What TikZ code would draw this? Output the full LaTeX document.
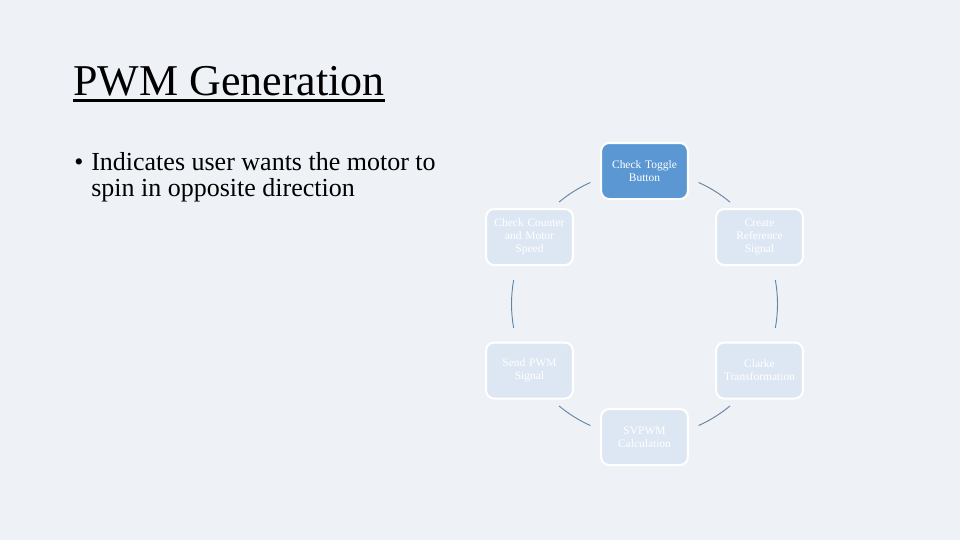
\documentclass[tikz,border=0pt]{standalone}
\usepackage{fontspec}
\setmainfont{Liberation Serif}
\definecolor{bgc}{RGB}{238,242,247}
\definecolor{darkbox}{RGB}{91,152,211}
\definecolor{lightbox}{RGB}{221,231,243}
\definecolor{connc}{RGB}{100,132,165}
\tikzset{
  stepbox/.style={rectangle, rounded corners=6pt, draw=white, line width=1.5pt,
    minimum width=65pt, minimum height=42pt, text width=60pt, align=center,
    inner sep=1pt, text=white, font=\fontsize{8.6}{9.8}\selectfont},
  activebox/.style={stepbox, fill=darkbox},
  fadedbox/.style={stepbox, fill=lightbox},
  conn/.style={draw=connc, line width=0.7pt},
}
\begin{document}
\begin{tikzpicture}[x=0.75pt,y=-0.75pt]
\fill[bgc] (0,0) rectangle (960,540);
\useasboundingbox (0,0) rectangle (960,540);

\node[anchor=base west, inner sep=0, font=\fontsize{33}{40}\selectfont] (title) at (73,95) {PWM Generation};
\draw[line width=2pt] ([yshift=-4pt]title.base west) -- ([yshift=-4pt]title.base east);

\node[anchor=base west, inner sep=0, font=\fontsize{19.5}{19.5}\selectfont] (bullet) at (74,170) {•};
\node[anchor=base west, inner sep=0, font=\fontsize{19.5}{19.5}\selectfont] (btext) at (91,170)
  {\parbox[t]{300pt}{\raggedright Indicates user wants the motor to\\spin in opposite direction}};

\coordinate (c) at (644.5,304);
\node[activebox] (toggle) at (644.5,171) {Check Toggle\\Button};
\node[fadedbox] (ref) at (759.5,237) {Create\\Reference\\Signal};
\node[fadedbox] (clarke) at (759.5,370.5) {Clarke\\Transformation};
\node[fadedbox] (svpwm) at (644.5,437) {SVPWM\\Calculation};
\node[fadedbox] (send) at (529.5,370.5) {Send PWM\\Signal};
\node[fadedbox] (counter) at (529.5,237) {Check Counter\\and Motor\\Speed};

\draw[conn] ([shift={(66:99.75pt)}]c) arc[start angle=66, end angle=50, radius=99.75pt];
\draw[conn] ([shift={(10.3:99.75pt)}]c) arc[start angle=10.3, end angle=-10.3, radius=99.75pt];
\draw[conn] ([shift={(-50:99.75pt)}]c) arc[start angle=-50, end angle=-66, radius=99.75pt];
\draw[conn] ([shift={(-114:99.75pt)}]c) arc[start angle=-114, end angle=-130, radius=99.75pt];
\draw[conn] ([shift={(-169.7:99.75pt)}]c) arc[start angle=-169.7, end angle=-190.3, radius=99.75pt];
\draw[conn] ([shift={(130:99.75pt)}]c) arc[start angle=130, end angle=114, radius=99.75pt];
\end{tikzpicture}
\end{document}
